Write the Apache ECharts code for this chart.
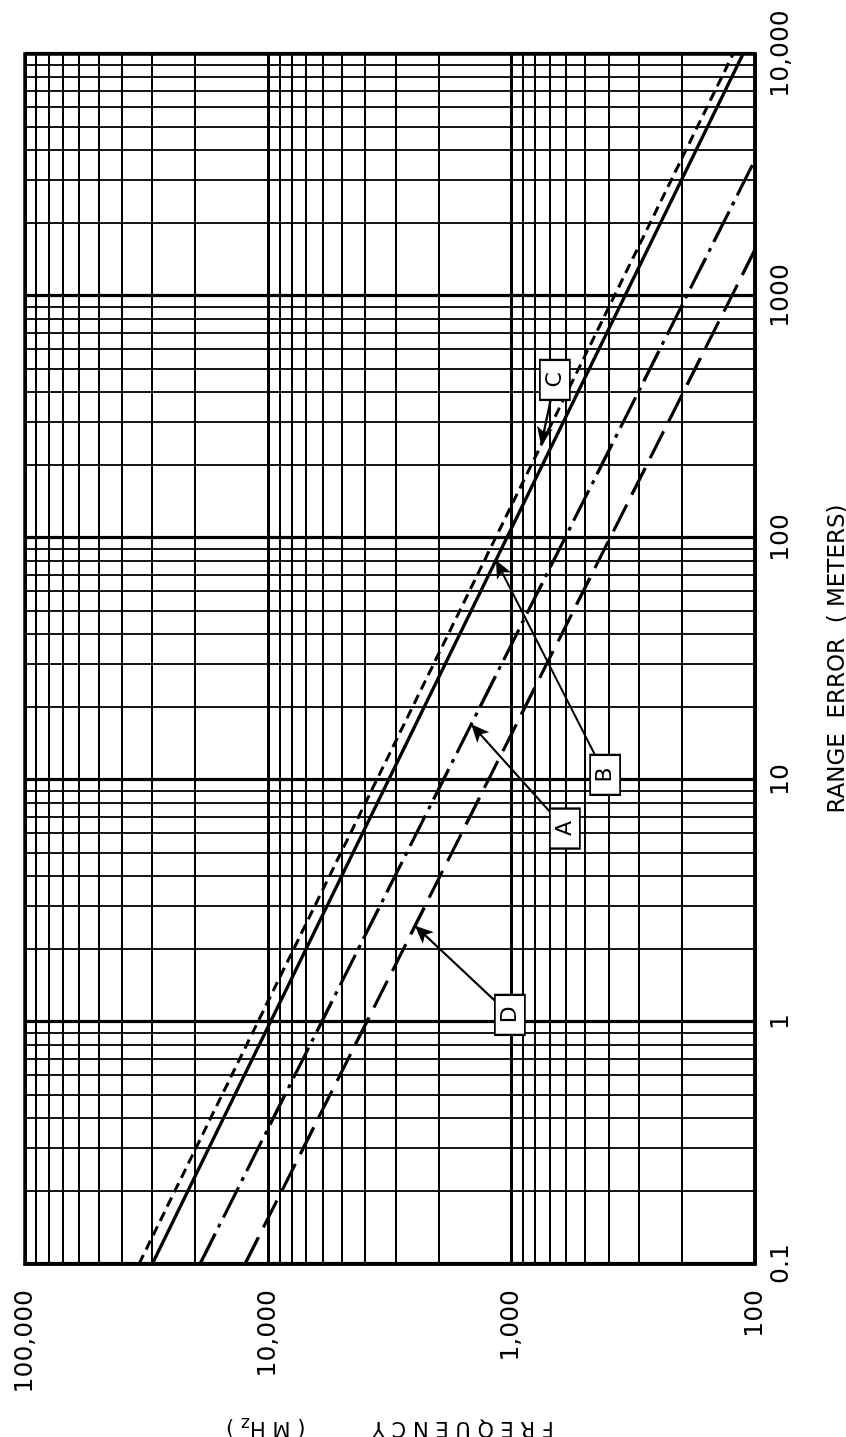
<!DOCTYPE html>
<html>
<head>
<meta charset="utf-8">
<script src="https://cdn.jsdelivr.net/npm/echarts/dist/echarts.min.js"></script>
<style>
  html, body { margin: 0; padding: 0; background: #fff; width: 846px; height: 1437px; overflow: hidden; }
  /* the chart is laid out landscape and turned a quarter turn counter-clockwise */
  #chart { position: absolute; left: 0; top: 0; width: 1437px; height: 846px;
           transform-origin: 0 0; transform: translate(0, 1437px) rotate(-90deg); }
</style>
</head>
<body>
<div id="chart"></div>
<script>
// Axis ticks
const rangeTicks = [0.1, 1, 10, 100, 1000, 10000];
const rangeTickLabels = ['0.1', '1', '10', '100', '1000', '10,000'];
const freqTicks = [100, 1000, 10000, 100000];
const freqTickLabels = ['100', '1,000', '10,000', '100,000'];
const gridSteps = [2, 3, 4, 5, 6, 7, 8, 9];

// Curves: [range error (m), frequency (MHz)] at the ends of each straight line
const curveC = [[0.1, 34000], [10000, 123]];
const curveB = [[0.1, 30000], [10000, 112]];
const curveA = [[0.1, 19100], [3650, 100]];
const curveD = [[0.1, 12470], [1555, 100]];

// Callout letters: box position and arrow tip on its curve
const calloutNames = ['A', 'B', 'C', 'D'];
const calloutBoxes = [[6.3, 604], [10.5, 413], [450, 664], [1.07, 1016]];
const calloutTips = [[17, 1466], [81, 1161], [242, 757], [2.5, 2495]];

const FONT = 'DejaVu Sans';

function tickText(ticks, labels) {
  return function (v) {
    const i = ticks.findIndex(t => Math.abs(Math.log10(t) - Math.log10(v)) < 1e-6);
    return i >= 0 ? labels[i] : '';
  };
}

// light grid lines at 2..9 inside every decade
const minorLines = [];
for (let e = -1; e < 4; e++) {
  gridSteps.forEach(s => minorLines.push({ xAxis: s * Math.pow(10, e) }));
}
for (let e = 2; e < 5; e++) {
  gridSteps.forEach(s => minorLines.push({ yAxis: s * Math.pow(10, e) }));
}

const chart = echarts.init(document.getElementById('chart'), null, { renderer: 'canvas' });

const option = {
  animation: false,
  backgroundColor: '#fff',
  grid: { left: 173, right: 54, top: 25, bottom: 91, containLabel: false, outerBoundsMode: 'none',
          show: true, borderColor: '#000', borderWidth: 3.5, backgroundColor: 'transparent', z: 10 },
  xAxis: {
    type: 'log', logBase: 10, min: 0.1, max: 10000,
    axisLine: { show: true, lineStyle: { color: '#000', width: 3.5 } },
    axisTick: { show: false },
    axisLabel: { show: true, showMinLabel: true, showMaxLabel: true, hideOverlap: false,
                 color: '#000', fontFamily: FONT, fontSize: 25, margin: 14,
                 formatter: tickText(rangeTicks, rangeTickLabels) },
    splitLine: { show: true, lineStyle: { color: '#000', width: 3.2 } },
    name: 'RANGE  ERROR  ( METERS)', nameLocation: 'middle', nameGap: 72,
    nameTextStyle: { color: '#000', fontFamily: FONT, fontSize: 23 }
  },
  yAxis: {
    type: 'log', logBase: 10, min: 100, max: 100000,
    axisLine: { show: true, lineStyle: { color: '#000', width: 3.5 } },
    axisTick: { show: false },
    axisLabel: { show: true, showMinLabel: true, showMaxLabel: true, hideOverlap: false,
                 color: '#000', fontFamily: FONT, fontSize: 25, margin: 26,
                 formatter: tickText(freqTicks, freqTickLabels) },
    splitLine: { show: true, lineStyle: { color: '#000', width: 3.2 } },
    name: 'F R E Q U E N C Y          ( M H{sub|z} )', nameLocation: 'middle', nameRotate: 90, nameGap: 150,
    nameTextStyle: { color: '#000', fontFamily: FONT, fontSize: 21,
                     rich: { sub: { fontFamily: FONT, fontSize: 17, color: '#000', padding: [9, 0, 0, 0] } } }
  },
  series: [
    {
      name: 'grid', type: 'line', data: [[0.1, 100]], symbol: 'none', silent: true, z: 1,
      lineStyle: { width: 0 },
      markLine: { silent: true, symbol: 'none', label: { show: false },
                  lineStyle: { color: '#000', width: 1.8, type: 'solid' }, data: minorLines, z: 1 }
    },
    { name: 'C', type: 'line', data: curveC, symbol: 'none', z: 5,
      lineStyle: { color: '#000', width: 3, type: [10, 6] } },
    { name: 'B', type: 'line', data: curveB, symbol: 'none', z: 5,
      lineStyle: { color: '#000', width: 3.2, type: 'solid' } },
    { name: 'A', type: 'line', data: curveA, symbol: 'none', z: 5,
      lineStyle: { color: '#000', width: 3.2, type: [34, 7, 4, 7] } },
    { name: 'D', type: 'line', data: curveD, symbol: 'none', z: 5,
      lineStyle: { color: '#000', width: 3.2, type: [30, 11] } },
    {
      name: 'arrows', type: 'line', data: [[0.1, 100]], symbol: 'none', silent: true, z: 6,
      lineStyle: { width: 0 },
      markLine: { silent: true, symbol: ['none', 'arrow'], symbolSize: [12, 18], label: { show: false },
                  lineStyle: { color: '#000', width: 2.2, type: 'solid' },
                  data: calloutBoxes.map((b, i) => [{ coord: b }, { coord: calloutTips[i] }]) }
    },
    {
      name: 'callouts', type: 'scatter', z: 8, silent: true,
      data: calloutBoxes.map((b, i) => ({ value: b, name: calloutNames[i] })),
      symbol: 'rect', symbolSize: [40, 30],
      itemStyle: { color: '#fff', borderColor: '#000', borderWidth: 2, opacity: 1 },
      label: { show: true, position: 'inside', formatter: p => p.name,
               color: '#000', fontFamily: FONT, fontSize: 22 }
    }
  ]
};
chart.setOption(option);
</script>
</body>
</html>
